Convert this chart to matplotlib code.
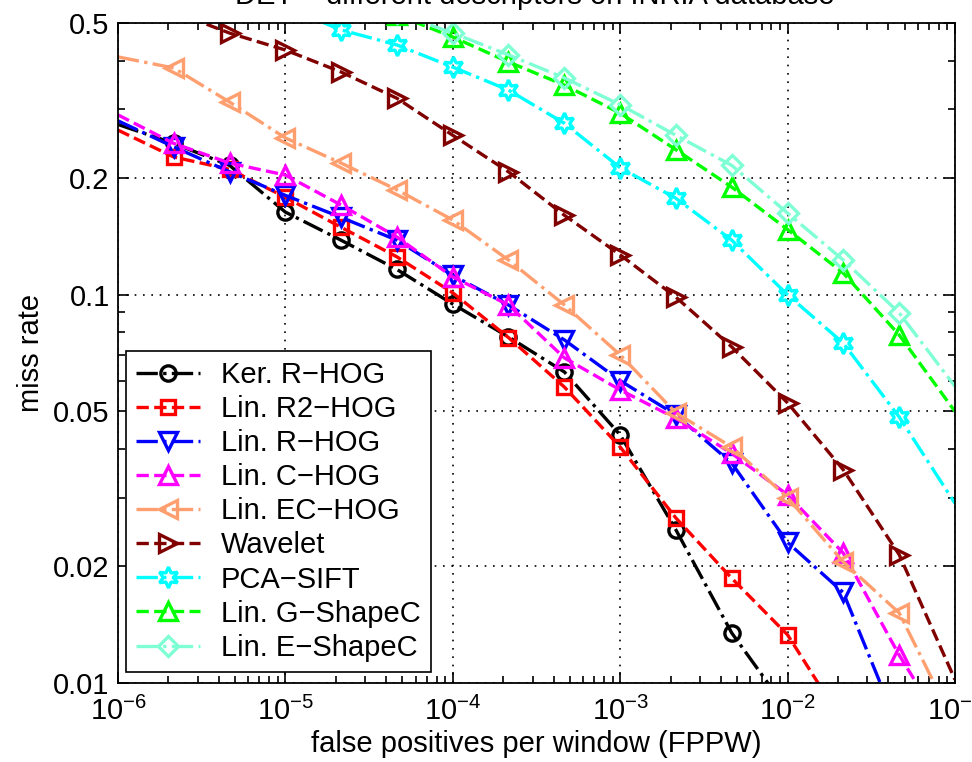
import numpy as np
import matplotlib
matplotlib.use("Agg")
import matplotlib.pyplot as plt
from matplotlib.ticker import LogLocator, FixedLocator, FixedFormatter, NullFormatter

plt.rcParams['font.family'] = ['Liberation Sans', 'DejaVu Sans']
plt.rcParams['mathtext.fontset'] = 'custom'
plt.rcParams['mathtext.rm'] = 'Liberation Sans'
plt.rcParams['mathtext.it'] = 'Liberation Sans'
plt.rcParams['mathtext.bf'] = 'Liberation Sans'

nan = np.nan

# ---- data ----
fppw = [1e-6, 2.15e-6, 4.64e-6, 1e-5, 2.15e-5, 4.64e-5, 1e-4, 2.15e-4, 4.64e-4,
        1e-3, 2.15e-3, 4.64e-3, 1e-2, 2.15e-2, 4.64e-2, 1e-1]

ker_r_hog = [0.274, 0.245, 0.215, 0.163, 0.138, 0.116, 0.0945, 0.0778, 0.0632,
             0.0435, 0.0248, 0.01345, 0.0085, nan, nan, nan]
lin_r2_hog = [0.265, 0.226, 0.21, 0.178, 0.149, 0.125, 0.101, 0.0775, 0.0578,
              0.0405, 0.0266, 0.0186, 0.0133, 0.0079, nan, nan]
lin_r_hog = [0.28, 0.24, 0.207, 0.18, 0.158, 0.138, 0.112, 0.094, 0.0764,
             0.060, 0.049, 0.0368, 0.023, 0.0171, 0.0076, nan]
lin_c_hog = [0.29, 0.245, 0.218, 0.203, 0.17, 0.1406, 0.111, 0.094, 0.0687,
             0.0568, 0.048, 0.039, 0.0305, 0.0216, 0.0118, 0.0069]
lin_ec_hog = [0.409, 0.383, 0.313, 0.253, 0.218, 0.186, 0.1556, 0.1227, 0.094,
              0.0699, 0.0496, 0.0405, 0.030, 0.0205, 0.01515, 0.0078]
wavelet = [nan, 0.535, 0.471, 0.426, 0.374, 0.32, 0.257, 0.207, 0.160,
           0.1265, 0.0985, 0.0733, 0.0526, 0.0354, 0.0214, 0.0102]
pca_sift = [nan, nan, nan, 0.55, 0.48, 0.439, 0.385, 0.336, 0.276,
            0.212, 0.177, 0.138, 0.0998, 0.075, 0.0484, 0.029]
lin_g_shapec = [nan, nan, nan, nan, nan, 0.525, 0.46, 0.397, 0.346,
                0.293, 0.236, 0.189, 0.147, 0.1136, 0.0787, 0.050]
lin_e_shapec = [nan, nan, nan, nan, nan, 0.53, 0.471, 0.414, 0.361,
                0.308, 0.257, 0.215, 0.162, 0.1227, 0.0897, 0.058]

labels = ['Ker. R\u2212HOG', 'Lin. R2\u2212HOG', 'Lin. R\u2212HOG', 'Lin. C\u2212HOG',
          'Lin. EC\u2212HOG', 'Wavelet', 'PCA\u2212SIFT', 'Lin. G\u2212ShapeC',
          'Lin. E\u2212ShapeC']
series = [ker_r_hog, lin_r2_hog, lin_r_hog, lin_c_hog, lin_ec_hog, wavelet,
          pca_sift, lin_g_shapec, lin_e_shapec]
colors = ['#000000', '#FF0000', '#0000FF', '#FF00FF', '#FF9F6F', '#800000',
          '#00FFFF', '#00FF00', '#7FFFD4']
markers = ['o', 's', 'v', '^', '<', '>', (6, 1, 0), '^', 'D']
styles = ['-.', '--', '-.', '--', '-.', '--', '-.', '--', '-.']
msizes = [11, 10.5, 13, 13, 13, 13, 15, 13, 10.5]

yticks = [0.01, 0.02, 0.05, 0.1, 0.2, 0.5]
ytick_labels = ['0.01', '0.02', '0.05', '0.1', '0.2', '0.5']
xticks = [1e-6, 1e-5, 1e-4, 1e-3, 1e-2, 1e-1]
xtick_labels = [r'$10^{-6}$', r'$10^{-5}$', r'$10^{-4}$', r'$10^{-3}$', r'$10^{-2}$', r'$10^{-1}$']

FS = 21

# ---- figure ----
fig = plt.figure(figsize=(9.72, 7.62), dpi=100)
ax = fig.add_axes([118/972, 79/762, 837/972, 660/762])

for vals, lab, c, m, ls, ms in zip(series, labels, colors, markers, styles, msizes):
    ax.plot(fppw, vals, linestyle=ls, color=c, marker=m, markersize=ms,
            markerfacecolor='none', markeredgecolor=c, markeredgewidth=2.4,
            linewidth=2.4, label=lab, markevery=list(range(1, 15)))

ax.set_xscale('log')
ax.set_yscale('log')
ax.set_xlim(1e-6, 1e-1)
ax.set_ylim(0.01, 0.5)

ax.yaxis.set_major_locator(FixedLocator(yticks))
ax.yaxis.set_major_formatter(FixedFormatter(ytick_labels))
ax.yaxis.set_minor_locator(LogLocator(base=10, subs=np.arange(2, 10)))
ax.yaxis.set_minor_formatter(NullFormatter())
ax.xaxis.set_major_locator(FixedLocator(xticks))
ax.xaxis.set_major_formatter(FixedFormatter(xtick_labels))
ax.xaxis.set_minor_locator(LogLocator(base=10, subs=np.arange(2, 10)))
ax.xaxis.set_minor_formatter(NullFormatter())

ax.tick_params(which='both', direction='in', top=True, right=True, width=1.2)
ax.tick_params(which='major', length=8, labelsize=FS, pad=6)
ax.tick_params(axis='x', which='major', pad=10)
ax.tick_params(which='minor', length=5)
for s in ax.spines.values():
    s.set_linewidth(1.3)

ax.grid(True, which='major', linestyle=(0, (1, 4)), color='black', linewidth=1.2)

ax.set_xlabel('false positives per window (FPPW)', fontsize=FS, labelpad=3)
ax.set_ylabel('miss rate', fontsize=FS, labelpad=6)

fig.text(535/972, 1 - 3.5/762, 'DET \u2212 different descriptors on INRIA database',
         ha='center', va='baseline', fontsize=FS)

leg = ax.legend(loc='lower left', bbox_to_anchor=(8/837, 11/660), borderaxespad=0,
                fontsize=FS, frameon=True, fancybox=False, edgecolor='black',
                handlelength=2.2, handletextpad=0.7, labelspacing=0.21,
                borderpad=0.35, framealpha=1)
leg.get_frame().set_linewidth(1.2)

fig.savefig('out.png', dpi=100)
